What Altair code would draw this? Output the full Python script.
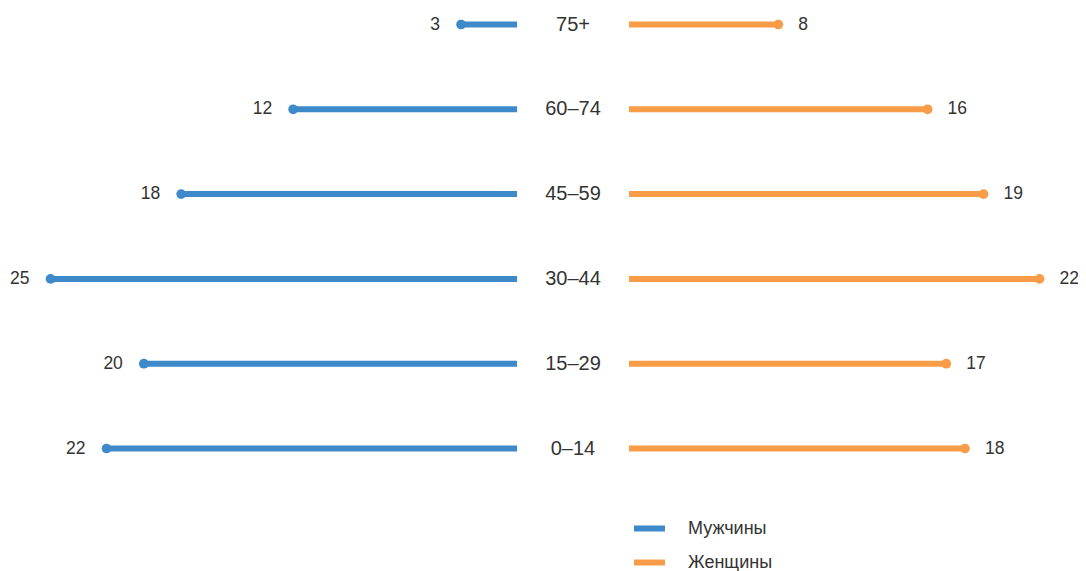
import altair as alt
import pandas as pd

ages = ["75+", "60–74", "45–59", "30–44", "15–29", "0–14"]
men = [3, 12, 18, 25, 20, 22]
women = [8, 16, 19, 22, 17, 18]
sexes = ["Мужчины", "Женщины"]
colors = ["#3d89c9", "#f89c47"]

rows = []
for a, m, w in zip(ages, men, women):
    rows.append({"age": a, "sex": sexes[0], "value": m, "sign": -1})
    rows.append({"age": a, "sex": sexes[1], "value": w, "sign": 1})
df = pd.DataFrame(rows)
labels_df = pd.DataFrame({"age": ages})

FONT = "Liberation Sans"
GAP = 3

xscale = alt.Scale(domain=[-30.28, 27.06], nice=False, zero=False)
yscale = alt.Scale(type="point", range=[16.5, 440.5], padding=0)
cscale = alt.Scale(domain=sexes, range=colors)

base = alt.Chart(df).transform_calculate(
    x0=f"datum.sign * {GAP}",
    x1=f"datum.sign * ({GAP} + datum.value)",
)

y = alt.Y("age:N", sort=ages, scale=yscale, axis=None)

bars = base.mark_rule(strokeWidth=6, strokeCap="butt").encode(
    x=alt.X("x0:Q", scale=xscale, axis=None),
    x2="x1:Q",
    y=y,
    color=alt.Color(
        "sex:N",
        scale=cscale,
        sort=sexes,
        legend=alt.Legend(
            title=None,
            orient="none",
            legendX=623,
            legendY=502,
            symbolType="stroke",
            symbolSize=961,
            symbolStrokeWidth=6,
            rowPadding=3,
            labelOffset=20,
            labelFont=FONT,
            labelFontSize=18,
            labelColor="#333333",
        ),
    ),
)

dots = base.mark_circle(size=95, opacity=1).encode(
    x=alt.X("x1:Q", scale=xscale, axis=None),
    y=y,
    color=alt.Color("sex:N", scale=cscale, legend=None),
)

men_text = base.transform_filter(alt.datum.sign < 0).mark_text(
    align="right", baseline="middle", dx=-21, font=FONT, fontSize=17.5, color="#333333"
).encode(x=alt.X("x1:Q", scale=xscale, axis=None), y=y, text="value:Q")

women_text = base.transform_filter(alt.datum.sign > 0).mark_text(
    align="left", baseline="middle", dx=20, font=FONT, fontSize=17.5, color="#333333"
).encode(x=alt.X("x1:Q", scale=xscale, axis=None), y=y, text="value:Q")

center = alt.Chart(labels_df).mark_text(
    align="center", baseline="middle", font=FONT, fontSize=20, color="#333333"
).encode(x=alt.value(565), y=y, text="age:N")

chart = alt.layer(bars, dots, men_text, women_text, center).properties(
    width=1070,
    height=563,
    autosize=alt.AutoSizeParams(type="none"),
    padding=0,
).configure_view(stroke=None)

chart.save("out.html", embed_options={"renderer": "svg", "actions": False})
